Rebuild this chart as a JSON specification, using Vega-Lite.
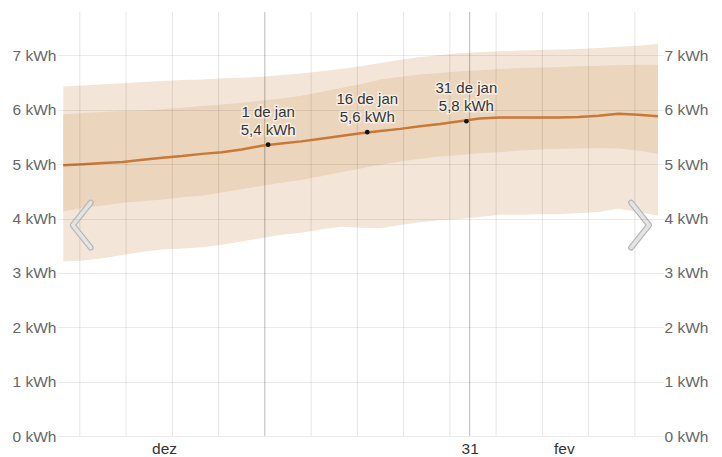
{
  "$schema": "https://vega.github.io/schema/vega-lite/v6.json",
  "width": 598,
  "height": 424,
  "autosize": {"type": "none"},
  "padding": {"left": 60, "top": 12, "right": 64, "bottom": 21},
  "background": "white",
  "config": {
    "font": "Liberation Sans, Arial, sans-serif",
    "view": {"stroke": null}
  },
  "datasets": {
    "series": [
      {"date": "2022-12-01T12:00Z", "p10": 3.21, "p25": 4.13, "p50": 4.98, "p75": 5.92, "p90": 6.43},
      {"date": "2022-12-04T12:00Z", "p10": 3.23, "p25": 4.20, "p50": 5.00, "p75": 5.94, "p90": 6.45},
      {"date": "2022-12-07T12:00Z", "p10": 3.27, "p25": 4.24, "p50": 5.02, "p75": 5.96, "p90": 6.47},
      {"date": "2022-12-10T12:00Z", "p10": 3.33, "p25": 4.29, "p50": 5.04, "p75": 5.98, "p90": 6.49},
      {"date": "2022-12-13T12:00Z", "p10": 3.39, "p25": 4.32, "p50": 5.08, "p75": 5.99, "p90": 6.51},
      {"date": "2022-12-16T12:00Z", "p10": 3.43, "p25": 4.35, "p50": 5.12, "p75": 6.01, "p90": 6.53},
      {"date": "2022-12-19T12:00Z", "p10": 3.45, "p25": 4.39, "p50": 5.15, "p75": 6.04, "p90": 6.55},
      {"date": "2022-12-22T12:00Z", "p10": 3.47, "p25": 4.42, "p50": 5.19, "p75": 6.07, "p90": 6.56},
      {"date": "2022-12-25T12:00Z", "p10": 3.52, "p25": 4.48, "p50": 5.22, "p75": 6.10, "p90": 6.58},
      {"date": "2022-12-28T12:00Z", "p10": 3.58, "p25": 4.54, "p50": 5.27, "p75": 6.13, "p90": 6.59},
      {"date": "2022-12-31T12:00Z", "p10": 3.64, "p25": 4.60, "p50": 5.34, "p75": 6.17, "p90": 6.61},
      {"date": "2023-01-03T12:00Z", "p10": 3.70, "p25": 4.66, "p50": 5.38, "p75": 6.21, "p90": 6.64},
      {"date": "2023-01-06T12:00Z", "p10": 3.74, "p25": 4.71, "p50": 5.42, "p75": 6.26, "p90": 6.67},
      {"date": "2023-01-09T12:00Z", "p10": 3.80, "p25": 4.78, "p50": 5.47, "p75": 6.33, "p90": 6.71},
      {"date": "2023-01-12T12:00Z", "p10": 3.85, "p25": 4.85, "p50": 5.52, "p75": 6.40, "p90": 6.75},
      {"date": "2023-01-15T12:00Z", "p10": 3.83, "p25": 4.92, "p50": 5.57, "p75": 6.47, "p90": 6.80},
      {"date": "2023-01-18T12:00Z", "p10": 3.82, "p25": 4.99, "p50": 5.61, "p75": 6.56, "p90": 6.86},
      {"date": "2023-01-21T12:00Z", "p10": 3.88, "p25": 5.05, "p50": 5.65, "p75": 6.61, "p90": 6.92},
      {"date": "2023-01-24T12:00Z", "p10": 3.93, "p25": 5.10, "p50": 5.70, "p75": 6.65, "p90": 6.97},
      {"date": "2023-01-27T12:00Z", "p10": 3.97, "p25": 5.14, "p50": 5.74, "p75": 6.68, "p90": 7.01},
      {"date": "2023-01-30T12:00Z", "p10": 3.99, "p25": 5.17, "p50": 5.79, "p75": 6.71, "p90": 7.04},
      {"date": "2023-02-02T12:00Z", "p10": 4.03, "p25": 5.20, "p50": 5.84, "p75": 6.73, "p90": 7.06},
      {"date": "2023-02-05T12:00Z", "p10": 4.07, "p25": 5.22, "p50": 5.86, "p75": 6.75, "p90": 7.08},
      {"date": "2023-02-08T12:00Z", "p10": 4.07, "p25": 5.25, "p50": 5.86, "p75": 6.77, "p90": 7.09},
      {"date": "2023-02-11T12:00Z", "p10": 4.08, "p25": 5.27, "p50": 5.86, "p75": 6.78, "p90": 7.10},
      {"date": "2023-02-14T12:00Z", "p10": 4.08, "p25": 5.28, "p50": 5.86, "p75": 6.79, "p90": 7.11},
      {"date": "2023-02-17T12:00Z", "p10": 4.10, "p25": 5.29, "p50": 5.87, "p75": 6.80, "p90": 7.12},
      {"date": "2023-02-20T12:00Z", "p10": 4.12, "p25": 5.30, "p50": 5.89, "p75": 6.81, "p90": 7.14},
      {"date": "2023-02-23T12:00Z", "p10": 4.18, "p25": 5.29, "p50": 5.93, "p75": 6.82, "p90": 7.16},
      {"date": "2023-02-26T12:00Z", "p10": 4.12, "p25": 5.25, "p50": 5.91, "p75": 6.83, "p90": 7.18},
      {"date": "2023-03-01T12:00Z", "p10": 4.05, "p25": 5.19, "p50": 5.88, "p75": 6.83, "p90": 7.21}
    ],
    "weeks": [
      {"date": "2022-12-04T00:00Z", "kind": "week"},
      {"date": "2022-12-11T00:00Z", "kind": "week"},
      {"date": "2022-12-18T00:00Z", "kind": "week"},
      {"date": "2022-12-25T00:00Z", "kind": "week"},
      {"date": "2023-01-01T00:00Z", "kind": "highlight"},
      {"date": "2023-01-08T00:00Z", "kind": "week"},
      {"date": "2023-01-15T00:00Z", "kind": "week"},
      {"date": "2023-01-22T00:00Z", "kind": "week"},
      {"date": "2023-01-29T00:00Z", "kind": "week"},
      {"date": "2023-02-01T00:00Z", "kind": "highlight"},
      {"date": "2023-02-05T00:00Z", "kind": "week"},
      {"date": "2023-02-12T00:00Z", "kind": "week"},
      {"date": "2023-02-19T00:00Z", "kind": "week"},
      {"date": "2023-02-26T00:00Z", "kind": "week"}
    ],
    "notes": [
      {"date": "2023-01-01T12:00Z", "value": 5.36, "day": "1 de jan", "amount": "5,4 kWh"},
      {"date": "2023-01-16T12:00Z", "value": 5.59, "day": "16 de jan", "amount": "5,6 kWh"},
      {"date": "2023-01-31T12:00Z", "value": 5.79, "day": "31 de jan", "amount": "5,8 kWh"}
    ],
    "nav": [
      {"date": "2022-12-04T07:00Z", "value": 3.88, "side": "left"},
      {"date": "2023-02-26T19:00Z", "value": 3.88, "side": "right"}
    ]
  },
  "encoding": {
    "x": {
      "field": "date",
      "type": "temporal",
      "scale": {
        "type": "utc",
        "domain": [
          {"year": 2022, "month": 12, "date": 1, "utc": true},
          {"year": 2023, "month": 3, "date": 1, "hours": 12, "utc": true}
        ]
      },
      "axis": {
        "title": null,
        "grid": false,
        "ticks": false,
        "domain": false,
        "values": [
          {"year": 2022, "month": 12, "date": 16, "hours": 18, "utc": true},
          {"year": 2023, "month": 2, "date": 1, "utc": true},
          {"year": 2023, "month": 2, "date": 15, "hours": 6, "utc": true}
        ],
        "labelExpr": "utcmonth(datum.value) == 11 ? 'dez' : (utcdate(datum.value) == 1 ? '31' : 'fev')",
        "labelFontSize": 15.5,
        "labelColor": "#333333",
        "labelPadding": 5,
        "labelFlush": false,
        "labelOverlap": false
      }
    }
  },
  "resolve": {"axis": {"y": "independent"}},
  "layer": [
    {
      "data": {"name": "series"},
      "mark": {"type": "area", "color": "#f3e6d8", "interpolate": "linear"},
      "encoding": {
        "y": {
          "field": "p10",
          "type": "quantitative",
          "scale": {"domain": [0, 7.8], "nice": false},
          "axis": {
            "orient": "left",
            "title": null,
            "values": [0, 1, 2, 3, 4, 5, 6, 7],
            "labelExpr": "datum.value + ' kWh'",
            "labelFontSize": 15.5,
            "labelColor": "#666666",
            "labelPadding": 1,
            "tickSize": 3,
            "tickColor": "#000000",
            "tickOpacity": 0.08,
            "grid": true,
            "gridColor": "#000000",
            "gridOpacity": 0.08,
            "domain": false,
            "zindex": 1
          }
        },
        "y2": {"field": "p90"}
      }
    },
    {
      "data": {"name": "series"},
      "mark": {"type": "area", "color": "#ebd5bd", "interpolate": "linear"},
      "encoding": {
        "y": {"field": "p25", "type": "quantitative", "scale": {"domain": [0, 7.8], "nice": false}, "axis": null},
        "y2": {"field": "p75"}
      }
    },
    {
      "data": {"name": "weeks"},
      "transform": [{"filter": "datum.kind == 'week'"}],
      "mark": {"type": "rule", "color": "#000000", "opacity": 0.1, "strokeWidth": 1},
      "encoding": {}
    },
    {
      "data": {"name": "weeks"},
      "transform": [{"filter": "datum.kind == 'highlight'"}],
      "mark": {"type": "rule", "color": "#000000", "opacity": 0.28, "strokeWidth": 1},
      "encoding": {}
    },
    {
      "data": {"name": "series"},
      "mark": {"type": "line", "color": "#c97836", "strokeWidth": 2.5, "interpolate": "linear"},
      "encoding": {
        "y": {
          "field": "p50",
          "type": "quantitative",
          "scale": {"domain": [0, 7.8], "nice": false},
          "axis": {
            "orient": "right",
            "title": null,
            "values": [0, 1, 2, 3, 4, 5, 6, 7],
            "labelExpr": "datum.value + ' kWh'",
            "labelFontSize": 15.5,
            "labelColor": "#666666",
            "labelPadding": 1,
            "tickSize": 5,
            "tickColor": "#000000",
            "tickOpacity": 0.08,
            "grid": false,
            "domain": false
          }
        }
      }
    },
    {
      "data": {"name": "notes"},
      "mark": {"type": "point", "filled": true, "color": "#111111", "size": 22, "opacity": 1},
      "encoding": {
        "y": {"field": "value", "type": "quantitative", "scale": {"domain": [0, 7.8], "nice": false}, "axis": null}
      }
    },
    {
      "data": {"name": "notes"},
      "mark": {"type": "text", "align": "center", "baseline": "alphabetic", "dy": -28, "fontSize": 15, "fill": "#ffffff", "stroke": "#ffffff", "strokeWidth": 3, "strokeOpacity": 0.6, "fillOpacity": 0.6},
      "encoding": {
        "y": {"field": "value", "type": "quantitative", "scale": {"domain": [0, 7.8], "nice": false}, "axis": null},
        "text": {"field": "day"}
      }
    },
    {
      "data": {"name": "notes"},
      "mark": {"type": "text", "align": "center", "baseline": "alphabetic", "dy": -10, "fontSize": 15, "fill": "#ffffff", "stroke": "#ffffff", "strokeWidth": 3, "strokeOpacity": 0.6, "fillOpacity": 0.6},
      "encoding": {
        "y": {"field": "value", "type": "quantitative", "scale": {"domain": [0, 7.8], "nice": false}, "axis": null},
        "text": {"field": "amount"}
      }
    },
    {
      "data": {"name": "notes"},
      "mark": {"type": "text", "align": "center", "baseline": "alphabetic", "dy": -28, "fontSize": 15, "color": "#333333"},
      "encoding": {
        "y": {"field": "value", "type": "quantitative", "scale": {"domain": [0, 7.8], "nice": false}, "axis": null},
        "text": {"field": "day"}
      }
    },
    {
      "data": {"name": "notes"},
      "mark": {"type": "text", "align": "center", "baseline": "alphabetic", "dy": -10, "fontSize": 15, "color": "#333333"},
      "encoding": {
        "y": {"field": "value", "type": "quantitative", "scale": {"domain": [0, 7.8], "nice": false}, "axis": null},
        "text": {"field": "amount"}
      }
    },
    {
      "data": {"name": "nav"},
      "mark": {"type": "point", "filled": false, "stroke": "#b8b8b8", "strokeWidth": 6, "strokeCap": "round", "strokeJoin": "round", "size": 2025, "opacity": 1},
      "encoding": {
        "y": {"field": "value", "type": "quantitative", "scale": {"domain": [0, 7.8], "nice": false}, "axis": null},
        "shape": {
          "field": "side",
          "type": "nominal",
          "scale": {"domain": ["left", "right"], "range": ["M 0.4 -1 L -0.4 0 L 0.4 1", "M -0.4 -1 L 0.4 0 L -0.4 1"]},
          "legend": null
        }
      }
    },
    {
      "data": {"name": "nav"},
      "mark": {"type": "point", "filled": false, "stroke": "#e4e4e4", "strokeWidth": 3.5, "strokeCap": "round", "strokeJoin": "round", "size": 2025, "opacity": 1},
      "encoding": {
        "y": {"field": "value", "type": "quantitative", "scale": {"domain": [0, 7.8], "nice": false}, "axis": null},
        "shape": {
          "field": "side",
          "type": "nominal",
          "scale": {"domain": ["left", "right"], "range": ["M 0.4 -1 L -0.4 0 L 0.4 1", "M -0.4 -1 L 0.4 0 L -0.4 1"]},
          "legend": null
        }
      }
    }
  ]
}
